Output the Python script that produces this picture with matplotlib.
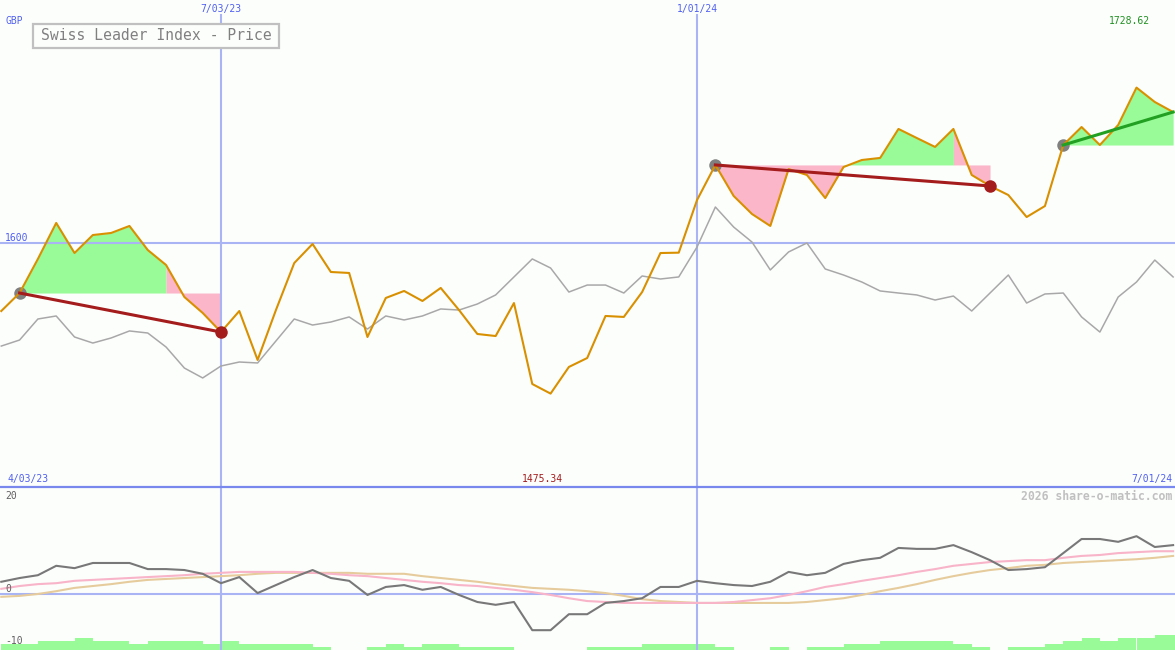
"""
Swiss Leader Index - weekly price chart with trade markers and oscillator
"""

import matplotlib
matplotlib.use("Agg")
import matplotlib.pyplot as plt
from matplotlib.lines import Line2D
from matplotlib.patches import Rectangle

W, H = 1175, 650
BG = "#fcfefc"

# weekly closes (GBP)
price = [1543.7, 1558.6, 1586.8, 1616.6, 1591.7, 1606.6, 1608.3, 1614.1, 1594.2, 1581.8,
         1555.3, 1542.1, 1526.3, 1543.7, 1503.2, 1544.5, 1583.4, 1599.2, 1576.0, 1575.2,
         1522.2, 1554.5, 1560.3, 1552.0, 1562.8, 1544.5, 1524.7, 1523.0, 1550.3, 1483.3,
         1475.34, 1497.4, 1504.8, 1539.6, 1538.8, 1559.4, 1591.7, 1592.0, 1635.6, 1664.6,
         1638.9, 1624.0, 1614.1, 1661.2, 1656.3, 1637.2, 1662.9, 1668.7, 1670.4, 1694.4,
         1686.9, 1679.5, 1694.4, 1656.3, 1647.2, 1639.7, 1621.5, 1630.6, 1681.1, 1696.0,
         1681.1, 1697.7, 1728.62, 1716.7, 1708.4]

# relative strength line (grey)
relative = [1514.7, 1519.7, 1537.1, 1539.6, 1522.2, 1517.2, 1521.4, 1527.2, 1525.5, 1513.9,
            1496.5, 1488.3, 1498.2, 1501.5, 1500.7, 1518.9, 1537.1, 1532.1, 1534.6, 1538.8,
            1528.8, 1539.6, 1536.3, 1539.6, 1545.4, 1544.5, 1549.5, 1557.0, 1571.9, 1586.8,
            1579.3, 1559.4, 1565.2, 1565.2, 1558.6, 1572.7, 1570.2, 1571.9, 1596.7, 1629.8,
            1613.2, 1600.8, 1577.7, 1592.6, 1600.0, 1578.5, 1573.5, 1567.7, 1560.3, 1558.6,
            1557.0, 1552.8, 1556.1, 1543.7, 1558.6, 1573.5, 1550.3, 1557.8, 1558.6, 1538.8,
            1526.3, 1555.3, 1567.7, 1585.9, 1571.9]

# oscillator panel
osc = [2.6, 3.4, 4.0, 6.0, 5.5, 6.6, 6.6, 6.6, 5.3, 5.3,
       5.1, 4.3, 2.3, 3.6, 0.2, 1.9, 3.6, 5.1, 3.4, 2.8,
       -0.2, 1.5, 1.9, 0.9, 1.5, -0.2, -1.7, -2.3, -1.7, -7.7,
       -7.7, -4.3, -4.3, -1.9, -1.5, -0.9, 1.5, 1.5, 2.8, 2.3,
       1.9, 1.7, 2.6, 4.7, 4.0, 4.5, 6.4, 7.2, 7.7, 9.8,
       9.6, 9.6, 10.4, 8.9, 7.2, 5.1, 5.3, 5.7, 8.7, 11.7,
       11.7, 11.1, 12.3, 10.0, 10.4]
osc_fast = [1.1, 1.7, 2.1, 2.3, 2.8, 3.0, 3.2, 3.4, 3.6, 3.8,
            4.0, 4.3, 4.5, 4.7, 4.7, 4.7, 4.7, 4.5, 4.3, 4.0,
            3.8, 3.4, 3.0, 2.6, 2.3, 1.9, 1.7, 1.3, 0.9, 0.4,
            -0.2, -0.9, -1.5, -1.7, -1.9, -1.9, -1.9, -1.9, -1.9, -1.9,
            -1.7, -1.3, -0.9, -0.2, 0.6, 1.5, 2.1, 2.8, 3.4, 4.0,
            4.7, 5.3, 6.0, 6.4, 6.8, 7.0, 7.2, 7.2, 7.7, 8.1,
            8.3, 8.7, 8.9, 9.1, 9.1]
osc_slow = [-0.6, -0.4, 0.0, 0.6, 1.3, 1.7, 2.1, 2.6, 3.0, 3.2,
            3.4, 3.6, 3.8, 4.0, 4.3, 4.5, 4.5, 4.5, 4.5, 4.5,
            4.3, 4.3, 4.3, 3.8, 3.4, 3.0, 2.6, 2.1, 1.7, 1.3,
            1.1, 0.9, 0.6, 0.2, -0.4, -1.1, -1.5, -1.7, -1.9, -1.9,
            -1.9, -1.9, -1.9, -1.9, -1.7, -1.3, -0.9, -0.2, 0.6, 1.3,
            2.1, 3.0, 3.8, 4.5, 5.1, 5.5, 6.0, 6.2, 6.6, 6.8,
            7.0, 7.2, 7.4, 7.7, 8.1]
volume = [2, 2, 3, 3, 4, 3, 3, 2, 3, 3,
          3, 2, 3, 2, 2, 2, 2, 1, 0, 0,
          1, 2, 1, 2, 2, 1, 1, 1, 0, 0,
          0, 0, 1, 1, 1, 2, 2, 2, 2, 1,
          0, 0, 1, 0, 1, 1, 2, 2, 3, 3,
          3, 3, 2, 1, 0, 1, 1, 2, 3, 4,
          3, 4, 4, 5, 5]

# trades: entry week, exit week, result colour
entries = [1, 39, 58]
exits = [12, 54, 64]
trade_colors = ["#a41c1c", "#a41c1c", "#22a022"]
closed = [True, True, False]
# shaded spans (start week, end week, gain?)
spans = [(1, 9, True), (9, 12, False), (39, 46, False), (46, 52, True),
         (52, 54, False), (58, 64, True)]

# date gridlines at 7/03/23 and 1/01/24
grid_weeks = [12, 38]

weeks = list(range(len(price)))

# pixel layout
PX_PER_WEEK = 18.31
X0 = 12 - 221 / PX_PER_WEEK
X1 = 12 + (W - 221) / PX_PER_WEEK
PRICE_PER_PX = 0.8277
OSC_PER_PX = 1 / 4.7
VOL_PX = 3


def fpos(x, y):
    return x / W, 1 - y / H


fig = plt.figure(figsize=(W / 100, H / 100), dpi=100, facecolor=BG)
ax1 = fig.add_axes([0, 163 / H, 1, 487 / H])
ax2 = fig.add_axes([0, 0, 1, 163 / H])
for ax in (ax1, ax2):
    ax.set_facecolor(BG)
    ax.set_xlim(X0, X1)
    ax.set_xticks([])
    ax.set_yticks([])
    for s in ax.spines.values():
        s.set_visible(False)

ax1.set_ylim(1600 - 244 * PRICE_PER_PX, 1600 + 243 * PRICE_PER_PX)
osc_bottom = -56 * OSC_PER_PX
ax2.set_ylim(osc_bottom, 107 * OSC_PER_PX)

grid_c = "#a8b4f4"

# main panel
for gw in grid_weeks:
    ax1.axvline(gw, ymax=1 - 15 / 487, color=grid_c, lw=1.5, zorder=1.5)
ax1.axhline(1600, color=grid_c, lw=1.5, zorder=1.5)

for a, b, gain in spans:
    e = [k for k in entries if k <= a][-1]
    lvl = price[e]
    ax1.fill_between(weeks[a:b + 1], price[a:b + 1], lvl,
                     color="#98fb98" if gain else "#fbb6c9", lw=0, zorder=1)

ax1.plot(weeks, relative, color="#a8a8a8", lw=1.1, zorder=2)
ax1.plot(weeks, price, color="#d99000", lw=1.5, zorder=3)

for e, x, c, done in zip(entries, exits, trade_colors, closed):
    ax1.plot(e, price[e], "o", ms=9, color="#808080", mec="none", zorder=2.5)
    ax1.plot([e, x], [price[e], price[x]], color=c, lw=2.2, zorder=4)
    if done:
        ax1.plot(x, price[x], "o", ms=9, color=c, mec="none", zorder=5)

# oscillator panel
ax2.bar(weeks, [v * VOL_PX * OSC_PER_PX for v in volume], width=1, bottom=osc_bottom,
        align="edge", color="#98fb98", lw=0, zorder=1)
for gw in grid_weeks:
    ax2.axvline(gw, color=grid_c, lw=1.5, zorder=2)
ax2.axhline(0, color=grid_c, lw=1.5, zorder=2)
ax2.plot(weeks, osc_slow, color="#e6cc9c", lw=1.5, zorder=3)
ax2.plot(weeks, osc_fast, color="#f8b4c8", lw=1.5, zorder=3)
ax2.plot(weeks, osc, color="#787878", lw=1.5, zorder=4)

# panel separator
fig.add_artist(Line2D([0, 1], [1 - 486.5 / H] * 2, color="#7888ec", lw=1.6))

# title box
fig.add_artist(Rectangle(fpos(33, 48), 246 / W, 24 / H, transform=fig.transFigure,
                         fc=BG, ec="#c0c0c0", lw=1.6, zorder=5))
fig.text(*fpos(156, 36), "Swiss Leader Index - Price", ha="center", va="center",
         family="DejaVu Sans Mono", size=10.6, color="#808080", zorder=6)

blue = "#5060f0"
mono = "DejaVu Sans Mono"
fig.text(*fpos(5, 21), "GBP", ha="left", va="center", family=mono, size=7, color=blue)
fig.text(*fpos(221, 9), "7/03/23", ha="center", va="center", family=mono, size=7, color=blue)
fig.text(*fpos(697, 9), "1/01/24", ha="center", va="center", family=mono, size=7, color=blue)
fig.text(*fpos(1129, 21), "1728.62", ha="center", va="center", family=mono, size=7,
         color="#209020")
fig.text(*fpos(5, 238), "1600", ha="left", va="center", family=mono, size=7, color=blue)
fig.text(*fpos(7, 479), "4/03/23", ha="left", va="center", family=mono, size=7, color=blue)
fig.text(*fpos(542, 479), "1475.34", ha="center", va="center", family=mono, size=7,
         color="#a41c1c")
fig.text(*fpos(1172, 479), "7/01/24", ha="right", va="center", family=mono, size=7, color=blue)
fig.text(*fpos(5, 496), "20", ha="left", va="center", family=mono, size=7, color="#606060")
fig.text(*fpos(5, 589), "0", ha="left", va="center", family=mono, size=7, color="#606060")
fig.text(*fpos(5, 641), "-10", ha="left", va="center", family=mono, size=7, color="#606060")
fig.text(*fpos(1172, 496), "2026 share-o-matic.com", ha="right", va="center", family=mono,
         size=8.3, weight="bold", color="#c0c0c0")

fig.savefig("out.png", dpi=100, facecolor=BG)
